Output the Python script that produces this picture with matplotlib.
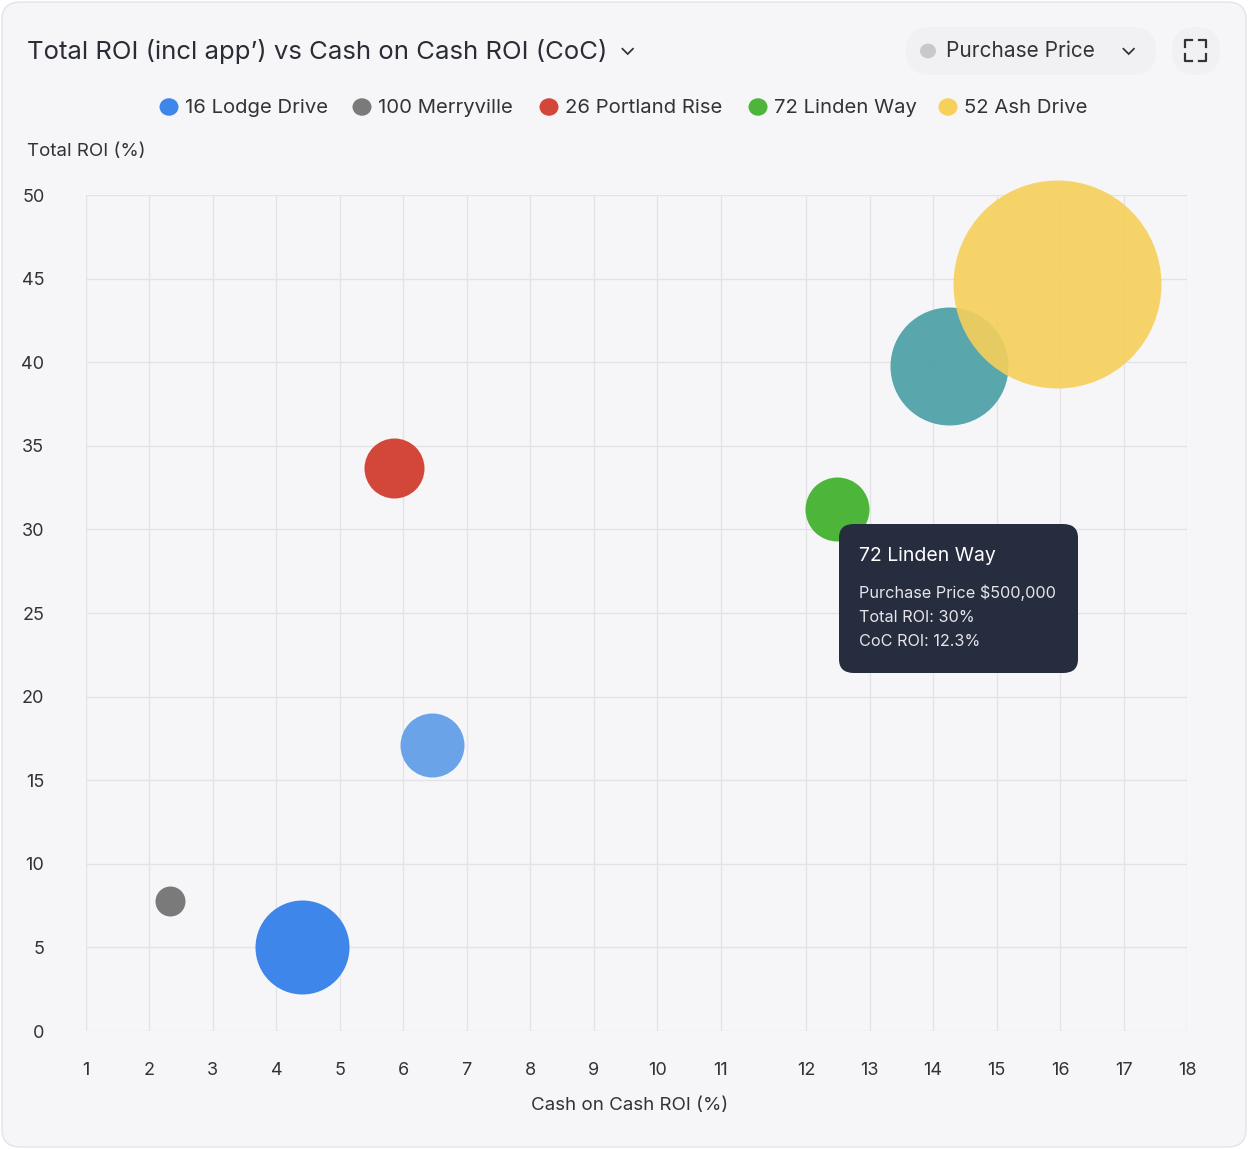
import matplotlib.pyplot as plt
from matplotlib.patches import FancyBboxPatch, Circle

plt.rcParams['font.family'] = ['Inter', 'DejaVu Sans']

##数据
names = ['16 Lodge Drive', '100 Merryville', '26 Portland Rise', '72 Linden Way', '52 Ash Drive']
legend_colors = ['#3f86ea', '#7a7a7a', '#d2473a', '#4cb53a', '#f6d05a']
coc = [4.4, 6.45, 2.32, 5.85, 12.48, 14.25, 15.95]
roi = [5.0, 17.1, 7.8, 33.7, 31.2, 39.8, 44.7]
radius_px = [47, 32, 15, 30, 32, 59, 104]
colors = ['#3f86ea', '#6aa3e8', '#7a7a7a', '#d2473a', '#4cb53a', '#3d9aa0', '#f6d05a']
alphas = [1, 1, 1, 1, 1, 0.85, 0.9]
xticks = list(range(1, 19))
yticks = list(range(0, 51, 5))

W, H = 1248, 1149
fig = plt.figure(figsize=(W / 100, H / 100), dpi=100)
fig.patch.set_facecolor('white')
card = FancyBboxPatch((2 / W, 2 / H), 1 - 4 / W, 1 - 4 / H, boxstyle='round,pad=0,rounding_size=0.015',
                      transform=fig.transFigure, fc='#f6f6f8', ec='#e4e4e8', lw=1, zorder=-5)
fig.patches.append(card)

##x轴在11和12之间有一段空隙
def xmap(v):
    return v + 0.35 if v > 11.5 else v

ax = fig.add_axes([86 / W, 1 - 1031 / H, (1187 - 86) / W, (1031 - 195) / H])
ax.set_zorder(2)
ax.set_facecolor('none')
ax.set_xlim(1, xmap(18))
ax.set_ylim(0, 50)
ax.set_xticks([xmap(v) for v in xticks])
ax.set_xticklabels([str(v) for v in xticks])
ax.set_yticks(yticks)
ax.grid(True, color='#e3e3e6', lw=1)
for s in ax.spines.values():
    s.set_visible(False)
ax.tick_params(length=0, labelsize=13, colors='#333333', pad=22)
ax.tick_params(axis='y', pad=30)
ax.set_axisbelow(True)

for x, y, r, c, a in zip(coc, roi, radius_px, colors, alphas):
    ax.scatter([xmap(x)], [y], s=(2 * r * 0.72) ** 2, color=c, alpha=a, lw=0, zorder=3, clip_on=False)

fig.text(531 / W, 1 - 1106 / H, 'Cash on Cash ROI (%)', fontsize=13.5, color='#333333', va='center')
fig.text(27 / W, 1 - 152 / H, 'Total ROI (%)', fontsize=13.5, color='#333333', va='center')
fig.text(27 / W, 1 - 51 / H, 'Total ROI (incl app\u2019) vs Cash on Cash ROI (CoC)', fontsize=18.5,
         color='#2a2d35', va='center')
fig.text(619 / W, 1 - 49 / H, '\u2304', fontsize=16, color='#333333', va='center')

##图例
lx = [169, 362, 549, 758, 948]
for x0, n, c in zip(lx, names, legend_colors):
    fig.patches.append(Circle((x0 / W, 1 - 107 / H), 9.5 / W, transform=fig.transFigure, fc=c, ec='none'))
    fig.text((x0 + 16) / W, 1 - 108 / H, n, fontsize=14.6, color='#333333', va='center')

##右上角下拉框
fig.patches.append(FancyBboxPatch((906 / W, 1 - 75 / H), 250 / W, 48 / H,
                                  boxstyle='round,pad=0,rounding_size=0.02', transform=fig.transFigure,
                                  fc='#f1f1f4', ec='none'))
fig.patches.append(Circle((928 / W, 1 - 51 / H), 8 / W, transform=fig.transFigure, fc='#c8c8cc', ec='none'))
fig.text(946 / W, 1 - 51 / H, 'Purchase Price', fontsize=15, color='#333333', va='center')
fig.text(1120 / W, 1 - 49 / H, '\u2304', fontsize=16, color='#333333', va='center')
fig.patches.append(FancyBboxPatch((1172 / W, 1 - 75 / H), 48 / W, 48 / H,
                                  boxstyle='round,pad=0,rounding_size=0.02', transform=fig.transFigure,
                                  fc='#f1f1f4', ec='none'))
for (a, b), (dx, dy) in zip([(1185, 40), (1206, 40), (1185, 61), (1206, 61)], [(1, 1), (-1, 1), (1, -1), (-1, -1)]):
    fig.lines.append(plt.Line2D([a / W, a / W, (a + 7 * dx) / W], [1 - (b + 7 * dy) / H, 1 - b / H, 1 - b / H],
                                transform=fig.transFigure, color='#333333', lw=1.6))

##提示框
fig.patches.append(FancyBboxPatch((839 / W, 1 - 673 / H), 239 / W, 149 / H,
                                  boxstyle='round,pad=0,rounding_size=0.012', transform=fig.transFigure,
                                  fc='#262d3f', ec='none', zorder=5))
fig.text(859 / W, 1 - 556 / H, '72 Linden Way', fontsize=14, color='white', va='center', zorder=6)
for i, t in enumerate(['Purchase Price $500,000', 'Total ROI: 30%', 'CoC ROI: 12.3%']):
    fig.text(859 / W, 1 - (593 + 24.5 * i) / H, t, fontsize=11.7, color='#e6e6ea', va='center', zorder=6)

fig.savefig('out.png', dpi=100, facecolor=fig.get_facecolor())
